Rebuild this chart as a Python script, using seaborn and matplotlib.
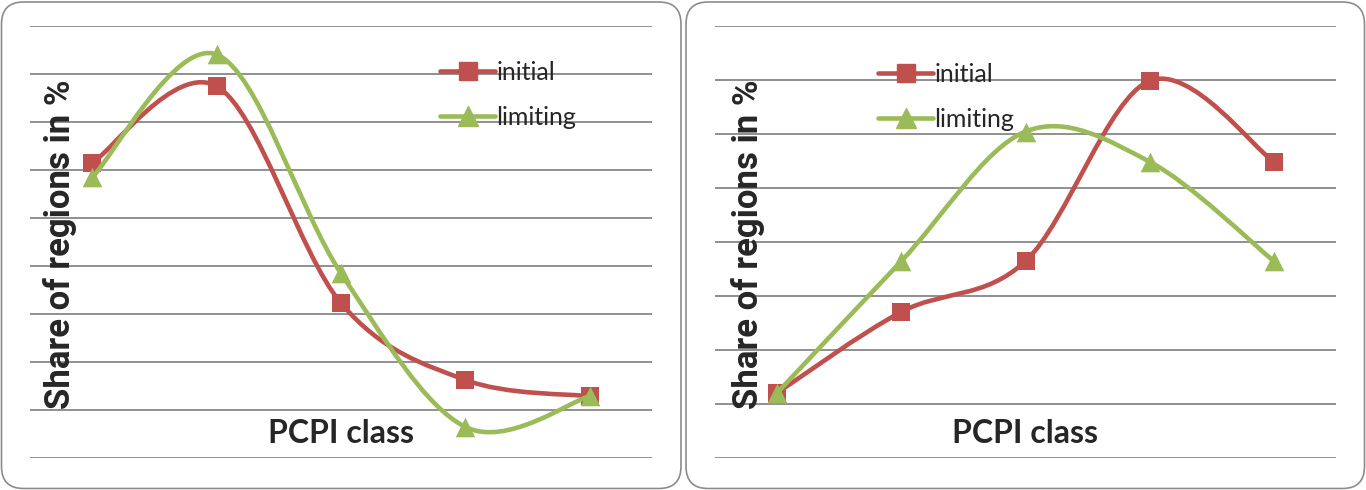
"""Two panels: share of regions by PCPI class, initial vs limiting distribution."""
import numpy as np
import pandas as pd
import seaborn as sns
import matplotlib.pyplot as plt
from matplotlib.path import Path
from matplotlib.patches import PathPatch, FancyBboxPatch
from matplotlib.lines import Line2D
from matplotlib.transforms import IdentityTransform

# data (share of regions, %)
classes = [1, 2, 3, 4, 5]
series_names = ['initial', 'limiting']
left_initial = [30.7, 38.7, 16.1, 8.1, 6.4]
left_limiting = [29.2, 42.0, 19.2, 3.2, 6.4]
right_initial = [6.0, 13.5, 18.2, 34.9, 27.4]
right_limiting = [6.0, 18.2, 30.2, 27.4, 18.2]
y_tops = [45, 40]
y_step = 5
x_label = 'PCPI class'
y_label = 'Share of regions in %'

RED = '#C0504D'
GREEN = '#9BBB59'
GRID = '#878787'
BORDER = '#8C8C8C'

sns.set_theme(style='white')
plt.rcParams['font.family'] = ['DejaVu Sans']


def smooth_path(xs, ys):
    # Excel-like smoothed line: cubic Bezier through the points (Catmull-Rom)
    pts = np.column_stack([xs, ys]).astype(float)
    n = len(pts)
    verts, codes = [pts[0]], [Path.MOVETO]
    for i in range(n - 1):
        p0, p1 = pts[max(i - 1, 0)], pts[i]
        p2, p3 = pts[i + 1], pts[min(i + 2, n - 1)]
        verts += [p1 + (p2 - p0) / 6, p2 - (p3 - p1) / 6, p2]
        codes += [Path.CURVE4] * 3
    return Path(verts, codes)


fig = plt.figure(figsize=(13.66, 4.9), dpi=100)
W, H = 1366, 490

# chart-area borders (rounded), in pixels
for x0, x1 in [(1.5, 681), (686, 1364.5)]:
    fig.add_artist(FancyBboxPatch((x0, 1.5), x1 - x0, H - 3.5,
                                  boxstyle='round,pad=0,rounding_size=22',
                                  transform=IdentityTransform(),
                                  facecolor='none', edgecolor=BORDER, lw=1.2))

panels = [
    (30, 652, left_initial, left_limiting, y_tops[0], (440, 61), 60),
    (715, 1336, right_initial, right_limiting, y_tops[1], (878, 63), 748),
]

for px0, px1, init, lim, ytop, leg_xy, ylab_x in panels:
    ax = fig.add_axes([px0 / W, 1 - 457.7 / H, (px1 - px0) / W, 432 / H])
    df = pd.DataFrame({'cls': np.arange(len(classes)) * 1.0,
                       'initial': init, 'limiting': lim})
    for name, col, mk, s, z in [('initial', RED, 's', 175, 3),
                                ('limiting', GREEN, '^', 200, 5)]:
        ax.add_patch(PathPatch(smooth_path(df['cls'], df[name]), facecolor='none',
                               edgecolor=col, lw=3.3, capstyle='round',
                               joinstyle='round', zorder=z))
        sns.scatterplot(data=df, x='cls', y=name, marker=mk, s=s, color=col,
                        linewidth=0, ax=ax, zorder=z + 1, legend=False)
    ax.set_xlim(-0.5, len(classes) - 0.5)
    ax.set_ylim(0, ytop)
    ax.set_yticks(np.arange(0, ytop + 1, y_step))
    ax.set_xticks([])
    ax.tick_params(left=False, labelleft=False)
    ax.grid(axis='y', color=GRID, lw=1.3)
    ax.set_axisbelow(True)
    for sp in ax.spines.values():
        sp.set_visible(False)
    ax.set_facecolor('none')
    ax.set_xlabel('')
    ax.set_ylabel('')

    handles = [Line2D([], [], color=RED, lw=3.3, marker='s', markersize=13,
                      solid_capstyle='round'),
               Line2D([], [], color=GREEN, lw=3.3, marker='^', markersize=14,
                      solid_capstyle='round')]
    fig.legend(handles, series_names, loc='upper left',
               bbox_to_anchor=(leg_xy[0] / W, 1 - leg_xy[1] / H),
               frameon=False, borderpad=0, borderaxespad=0,
               handlelength=2.2, handletextpad=0.05, labelspacing=0.88,
               prop={'family': 'Lato', 'size': 18})

    fig.text((px0 + px1) / 2 / W, 1 - 443 / H, x_label, ha='center', va='baseline',
             family='Lato', weight='bold', fontsize=23)
    fig.text(ylab_x / W, 1 - 244 / H, y_label, rotation=90, ha='center',
             va='center', weight='bold', family='Roboto', fontsize=25)

fig.savefig('out.png', dpi=100)
